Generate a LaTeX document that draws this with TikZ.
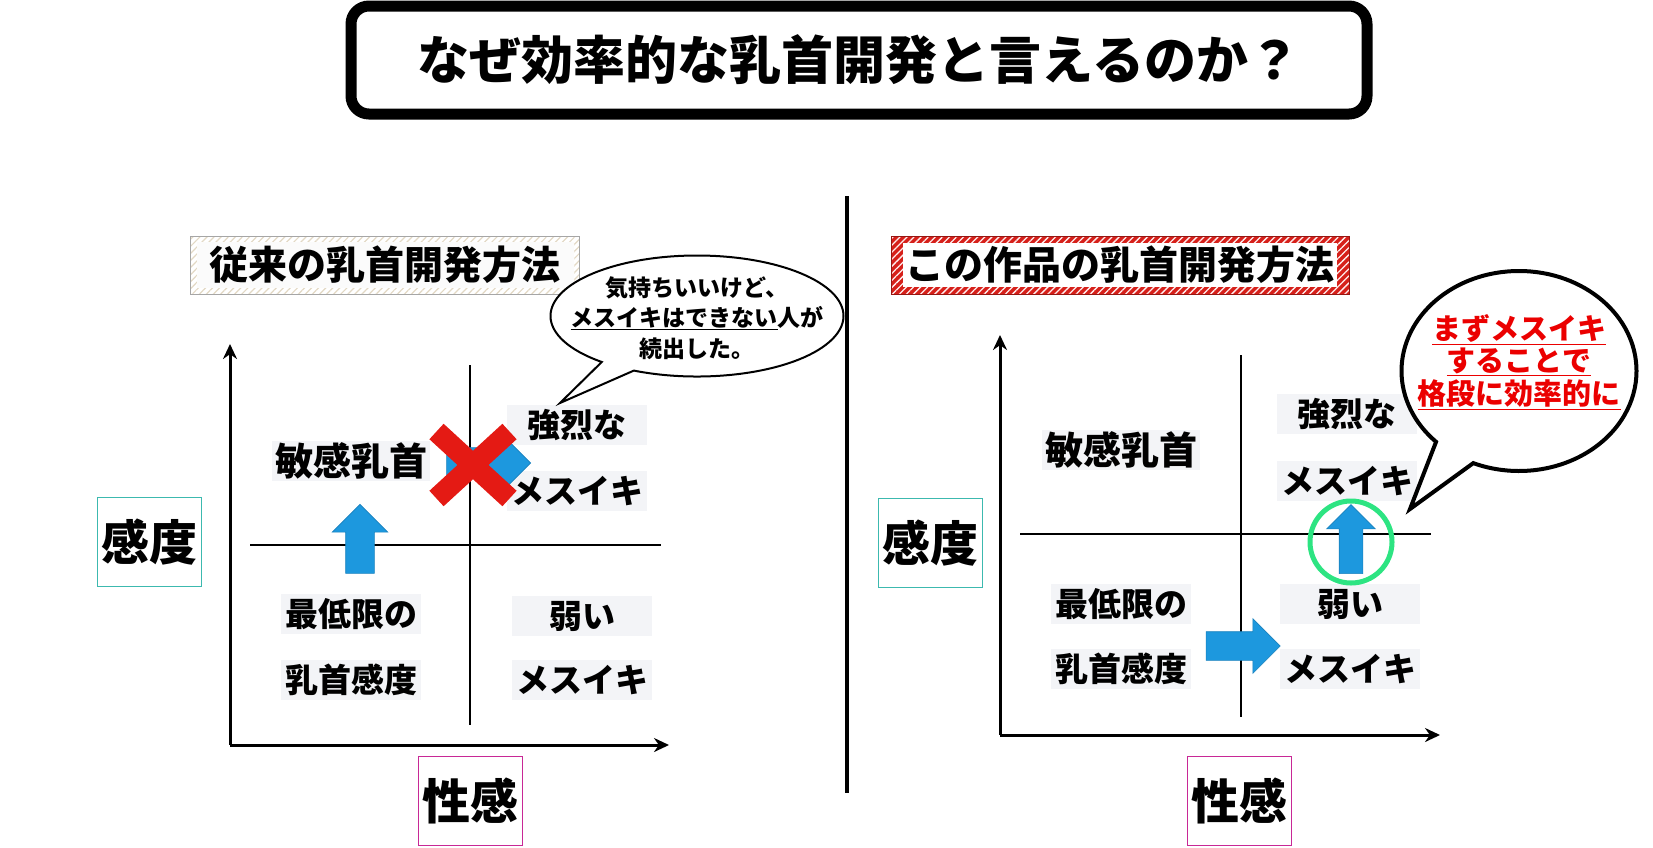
\documentclass[tikz,border=0pt]{standalone}
\usepackage{fontspec}
\setmainfont{Noto Sans CJK JP}
\usetikzlibrary{arrows.meta,positioning,shapes.arrows,shapes.callouts,shapes.misc,patterns.meta}

\definecolor{arrowblue}{RGB}{29,152,222}
\definecolor{xred}{RGB}{228,26,20}
\definecolor{ringgreen}{RGB}{45,228,130}
\definecolor{qgray}{RGB}{243,244,247}
\definecolor{axteal}{RGB}{60,185,175}
\definecolor{axmagenta}{RGB}{200,40,150}
\definecolor{hatchbeige}{RGB}{226,216,196}
\definecolor{stripered}{RGB}{214,32,26}
\definecolor{sayred}{RGB}{235,0,0}

\newcommand{\pxsize}[1]{\fontsize{#1}{#1}\selectfont}

\begin{document}
\begin{tikzpicture}[
    x=1pt, y=-1pt,
    >=Stealth,
    every node/.style={font=\bfseries},
    titlebox/.style={
        draw,
        line width=11pt,
        rounded corners=18pt,
        minimum width=1016pt,
        minimum height=108pt,
        font=\bfseries\pxsize{52}
    },
    oldframe/.style={
        draw=gray!70,
        line width=1pt,
        pattern={Lines[angle=45,distance=5pt,line width=1.2pt]},
        pattern color=hatchbeige,
        minimum width=389pt,
        minimum height=58pt
    },
    oldhead/.style={
        fill=gray!3,
        inner sep=0pt,
        minimum width=377pt,
        minimum height=46pt,
        font=\bfseries\pxsize{39}
    },
    newframe/.style={
        draw=stripered!70!black,
        line width=1pt,
        preaction={fill=stripered},
        pattern={Lines[angle=45,distance=5pt,line width=1.3pt]},
        pattern color=white!75!pink,
        minimum width=458pt,
        minimum height=58pt
    },
    newhead/.style={
        fill=white,
        inner sep=0pt,
        minimum width=434pt,
        minimum height=44pt,
        font=\bfseries\pxsize{39}
    },
    axis/.style={line width=3pt, -{Stealth[length=15pt,width=14pt]}},
    quad/.style={line width=1.5pt},
    axislab/.style={
        draw,
        line width=1pt,
        fill=white,
        minimum width=104pt,
        minimum height=89pt,
        font=\bfseries\pxsize{48}
    },
    qlab/.style={
        fill=qgray,
        inner sep=2pt,
        minimum width=140pt,
        minimum height=40pt,
        font=\bfseries\pxsize{33}
    },
    bigqlab/.style={
        qlab,
        minimum width=158pt,
        minimum height=38pt,
        font=\bfseries\pxsize{38}
    },
    blockarrow/.style={
        single arrow,
        fill=arrowblue,
        draw=arrowblue!85!black,
        line width=0.6pt,
        inner xsep=0pt,
        text height=0pt,
        text depth=0pt,
        text width=0pt,
        single arrow head indent=0pt
    },
    uparrow/.style={blockarrow, inner ysep=0pt, shape border rotate=90},
    bubble/.style={ellipse callout, draw, fill=white}
]
\useasboundingbox (0,0) rectangle (1653,847);

%------------------------------------------------
% Heading and divider
%------------------------------------------------
\node[titlebox] (title) at (859,60) {なぜ効率的な乳首開発と言えるのか？};

\coordinate (divtop) at (847,196);
\coordinate (divbot) at (847,793);
\draw[line width=4pt] (divtop) -- (divbot);

%------------------------------------------------
% Left panel: old method
%------------------------------------------------
\node[oldframe] (oldbox) at (385,265) {};
\node[oldhead]  (oldtitle) at (385,265) {従来の乳首開発方法};

\coordinate (oL)  at (230,745);
\coordinate (oLy) at (230,344);
\coordinate (oLx) at (669,745);
\draw[axis] (oL) -- (oLy);
\draw[axis] (oL) -- (oLx);

\coordinate (vLt) at (470,365);
\coordinate (vLb) at (470,725);
\coordinate (hLl) at (250,545);
\coordinate (hLr) at (661,545);
\draw[quad] (vLt) -- (vLb);
\draw[quad] (hLl) -- (hLr);

\node[axislab, draw=axteal]    (senseL) at (149,542) {感度};
\node[axislab, draw=axmagenta] (pleasL) at (470,801) {性感};

\node[bigqlab] (nipL)   at (351,461) {敏感乳首};
\node[qlab]    (minL)   at (351,614) {最低限の};
\node[qlab]    (nipsL)  at (351,680) {乳首感度};
\node[qlab]    (strL)   at (577,425) {強烈な};
\node[qlab]    (mesuL)  at (577,491) {メスイキ};
\node[qlab]    (weakL)  at (582,616) {弱い};
\node[qlab]    (mesuwL) at (582,680) {メスイキ};

\node[uparrow, inner xsep=14pt, minimum height=69pt, minimum width=55pt,
      single arrow head extend=13.5pt] (upL) at (360,546) {};
\node[blockarrow, inner ysep=15pt, minimum height=84pt, minimum width=56pt,
      single arrow head extend=13pt] (rightL) at (481,463) {};
\node[cross out, draw=xred, line width=21pt,
      minimum width=52pt, minimum height=46pt] (ngmark) at (473,465) {};

\coordinate (tipL) at (560,403);
\node[bubble, line width=2pt, minimum width=293pt, minimum height=121pt,
      callout absolute pointer={(tipL)}] (sayL) at (697,316) {};
\node[align=center, font=\bfseries\pxsize{23}] (sayLtext) at (697,318)
    {気持ちいいけど、\\[7pt]\underline{メスイキはできない}人が\\[7pt]続出した。};

%------------------------------------------------
% Right panel: this work
%------------------------------------------------
\node[newframe] (newbox)   at (1120,265) {};
\node[newhead]  (newtitle) at (1120,265) {この作品の乳首開発方法};

\coordinate (oR)  at (1000,735);
\coordinate (oRy) at (1000,335);
\coordinate (oRx) at (1440,735);
\draw[axis] (oR) -- (oRy);
\draw[axis] (oR) -- (oRx);

\coordinate (vRt) at (1241,355);
\coordinate (vRb) at (1241,717);
\coordinate (hRl) at (1020,534);
\coordinate (hRr) at (1431,534);
\draw[quad] (vRt) -- (vRb);
\draw[quad] (hRl) -- (hRr);

\node[axislab, draw=axteal]    (senseR) at (930,543) {感度};
\node[axislab, draw=axmagenta] (pleasR) at (1239,801) {性感};

\node[bigqlab] (nipR)   at (1121,450) {敏感乳首};
\node[qlab]    (minR)   at (1121,604) {最低限の};
\node[qlab]    (nipsR)  at (1121,669) {乳首感度};
\node[qlab]    (strR)   at (1347,414) {強烈な};
\node[qlab]    (mesuR)  at (1347,481) {メスイキ};
\node[qlab]    (weakR)  at (1350,604) {弱い};
\node[qlab]    (mesuwR) at (1350,669) {メスイキ};

\node[blockarrow, inner ysep=14pt, minimum height=74pt, minimum width=54pt,
      single arrow head extend=13pt] (rightR) at (1236,646) {};
\node[uparrow, inner xsep=11.5pt, minimum height=69pt, minimum width=48pt,
      single arrow head extend=12.5pt] (upR) at (1351,545) {};
\node[circle, draw=ringgreen, line width=5pt, minimum size=82pt] (ring) at (1351,542) {};

\coordinate (tipR) at (1410,509);
\node[bubble, line width=4pt, minimum width=235pt, minimum height=200pt,
      callout pointer arc=22, callout absolute pointer={(tipR)}] (sayR) at (1519,371) {};
\node[align=center, text=sayred, font=\bfseries\pxsize{29}] (sayRtext) at (1519,362)
    {\underline{まずメスイキ}\\[3pt]\underline{することで}\\[3pt]\underline{格段に効率的に}};

\end{tikzpicture}
\end{document}
